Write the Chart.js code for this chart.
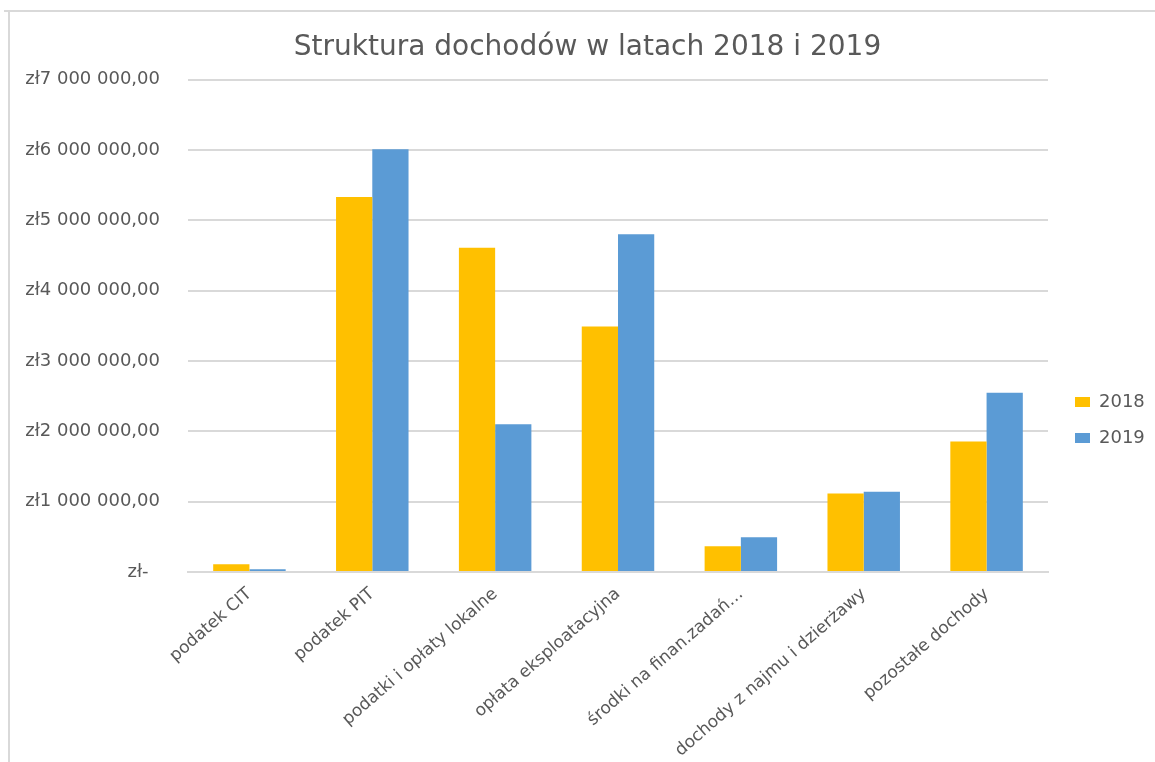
<!DOCTYPE html>
<html>
<head>
<meta charset="utf-8">
<script src="https://cdn.jsdelivr.net/npm/chart.js@4"></script>
<style>
  html, body { margin: 0; padding: 0; background: #ffffff; }
  #wrap { width: 1155px; height: 762px; position: relative; }
</style>
</head>
<body>
<div id="wrap"><canvas id="c" width="1155" height="762"></canvas></div>
<script>
const categories = [
  "podatek CIT",
  "podatek PIT",
  "podatki i opłaty lokalne",
  "opłata eksploatacyjna",
  "środki na finan.zadań…",
  "dochody z najmu i dzierżawy",
  "pozostałe dochody"
];
const values2018 = [110000, 5330000, 4610000, 3490000, 365000, 1115000, 1855000];
const values2019 = [40000, 6010000, 2100000, 4800000, 495000, 1140000, 2550000];
const seriesLabels = ["2018", "2019"];
const yTicks = [0, 1000000, 2000000, 3000000, 4000000, 5000000, 6000000, 7000000];
const titleText = "Struktura dochodów w latach 2018 i 2019";

function formatPLN(v) {
  if (v === 0) return "zł-  ";
  const m = Math.round(v / 1000000);
  return "zł" + m + " 000 000,00";
}

const frame = {
  id: "frame",
  beforeDraw(chart) {
    const ctx = chart.ctx;
    ctx.save();
    ctx.fillStyle = "#ffffff";
    ctx.fillRect(0, 0, chart.width, chart.height);
    ctx.strokeStyle = "#d9d9d9";
    ctx.lineWidth = 2;
    ctx.beginPath();
    ctx.moveTo(4, 11);
    ctx.lineTo(chart.width, 11);
    ctx.moveTo(9, 11);
    ctx.lineTo(9, chart.height);
    ctx.stroke();
    ctx.restore();
  }
};

// legend box sizing / offset (Excel places legend centred on plot+labels area)
const legendFix = {
  id: "legendFix",
  beforeLayout(chart) {
    const lg = chart.legend;
    if (lg && !lg.__fixed) {
      const origFit = lg.fit.bind(lg);
      lg.fit = function () { origFit(); this.width = 107; };
      const origDraw = lg.draw.bind(lg);
      lg.draw = function () {
        const c = this.ctx;
        c.save();
        c.translate(9, 39);
        origDraw();
        c.restore();
      };
      lg.__fixed = true;
    }
  }
};

const font = "'DejaVu Sans', 'Open Sans', sans-serif";

new Chart(document.getElementById("c"), {
  type: "bar",
  data: {
    labels: categories,
    datasets: [
      { label: seriesLabels[0], data: values2018, backgroundColor: "#FFC000", borderWidth: 0 },
      { label: seriesLabels[1], data: values2019, backgroundColor: "#5B9BD5", borderWidth: 0 }
    ]
  },
  options: {
    responsive: false,
    animation: false,
    devicePixelRatio: 1,
    layout: { padding: { left: 20, right: 0, top: 0, bottom: 0 } },
    datasets: { bar: { categoryPercentage: 0.59, barPercentage: 1.0 } },
    plugins: {
      title: {
        display: true,
        text: titleText,
        color: "#595959",
        font: { family: font, size: 28, weight: "normal" },
        padding: { top: 31, bottom: 15 }
      },
      legend: {
        position: "right",
        labels: {
          color: "#595959",
          font: { family: font, size: 18 },
          boxWidth: 15,
          boxHeight: 10,
          padding: 18
        }
      },
      tooltip: { enabled: false }
    },
    scales: {
      x: {
        grid: { display: false, drawTicks: false },
        border: { display: true, color: "#d9d9d9", width: 2 },
        ticks: {
          color: "#595959",
          font: { family: font, size: 17 },
          minRotation: 41,
          maxRotation: 41,
          autoSkip: false,
          padding: 12
        },
        afterFit(scale) { scale.height = 190; }
      },
      y: {
        min: 0,
        max: 7000000,
        afterBuildTicks(scale) { scale.ticks = yTicks.map(v => ({ value: v })); },
        grid: { color: "#d9d9d9", lineWidth: 2, drawTicks: false },
        border: { display: false },
        ticks: {
          color: "#595959",
          font: { family: font, size: 18 },
          padding: 28,
          callback: (v) => formatPLN(v)
        },
        afterFit(scale) { scale.width = 168; }
      }
    }
  },
  plugins: [frame, legendFix]
});
</script>
</body>
</html>
